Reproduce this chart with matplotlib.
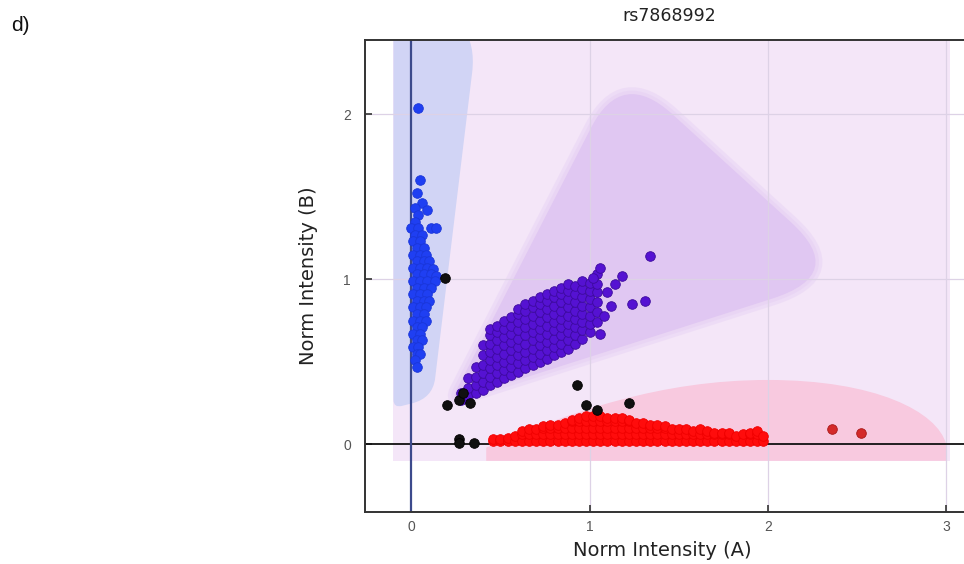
import numpy as np
import matplotlib.pyplot as plt
from matplotlib.path import Path
from matplotlib.patches import PathPatch, Rectangle

plt.rcParams['font.family'] = ['DejaVu Sans']

snp_name = 'rs7868992'
x_label = 'Norm Intensity (A)'
y_label = 'Norm Intensity (B)'
x_ticks = [0, 1, 2, 3]
y_ticks = [0, 1, 2]

# BB calls (blue)
blue_pts = [
    (0.035, 2.04), (0.05, 1.60), (0.03, 1.52), (0.06, 1.46), (0.02, 1.43),
    (0.09, 1.42), (0.04, 1.39), (0.11, 1.31), (0.14, 1.31), (0.02, 1.35),
    (0.00, 1.31), (0.04, 1.31), (0.02, 1.27), (0.06, 1.27), (0.01, 1.23),
    (0.05, 1.23), (0.03, 1.19), (0.07, 1.19), (0.01, 1.15), (0.05, 1.15),
    (0.08, 1.15), (0.03, 1.11), (0.07, 1.11), (0.10, 1.11), (0.01, 1.07),
    (0.05, 1.07), (0.09, 1.07), (0.12, 1.06), (0.03, 1.03), (0.07, 1.03),
    (0.11, 1.03), (0.14, 1.02), (0.01, 0.99), (0.05, 0.99), (0.09, 0.99),
    (0.13, 0.99), (0.03, 0.95), (0.07, 0.95), (0.11, 0.95), (0.01, 0.91),
    (0.05, 0.91), (0.09, 0.91), (0.03, 0.87), (0.07, 0.87), (0.10, 0.87),
    (0.01, 0.83), (0.05, 0.83), (0.08, 0.83), (0.03, 0.79), (0.07, 0.79),
    (0.01, 0.75), (0.05, 0.75), (0.08, 0.75), (0.03, 0.71), (0.06, 0.71),
    (0.01, 0.67), (0.05, 0.67), (0.03, 0.63), (0.06, 0.63), (0.01, 0.59),
    (0.04, 0.59), (0.03, 0.55), (0.05, 0.55), (0.02, 0.51), (0.03, 0.47),
]

# AB calls (purple)
purple_pts = [
    (0.28, 0.27), (0.28, 0.31),
    (0.32, 0.29), (0.32, 0.34), (0.32, 0.40),
    (0.36, 0.31), (0.36, 0.36), (0.36, 0.41), (0.36, 0.47),
    (0.40, 0.33), (0.40, 0.38), (0.40, 0.43), (0.40, 0.48), (0.40, 0.54), (0.40, 0.60),
    (0.44, 0.36), (0.44, 0.41), (0.44, 0.46), (0.44, 0.51), (0.44, 0.56), (0.44, 0.61),
    (0.44, 0.66), (0.44, 0.70),
    (0.48, 0.38), (0.48, 0.43), (0.48, 0.48), (0.48, 0.53), (0.48, 0.58), (0.48, 0.63),
    (0.48, 0.68), (0.48, 0.72),
    (0.52, 0.40), (0.52, 0.45), (0.52, 0.50), (0.52, 0.55), (0.52, 0.60), (0.52, 0.65),
    (0.52, 0.70), (0.52, 0.75),
    (0.56, 0.42), (0.56, 0.47), (0.56, 0.52), (0.56, 0.57), (0.56, 0.62), (0.56, 0.67),
    (0.56, 0.72), (0.56, 0.77),
    (0.60, 0.44), (0.60, 0.49), (0.60, 0.54), (0.60, 0.59), (0.60, 0.64), (0.60, 0.69),
    (0.60, 0.74), (0.60, 0.79), (0.60, 0.82),
    (0.64, 0.46), (0.64, 0.51), (0.64, 0.56), (0.64, 0.61), (0.64, 0.66), (0.64, 0.71),
    (0.64, 0.76), (0.64, 0.81), (0.64, 0.85),
    (0.68, 0.48), (0.68, 0.53), (0.68, 0.58), (0.68, 0.63), (0.68, 0.68), (0.68, 0.73),
    (0.68, 0.78), (0.68, 0.83), (0.68, 0.87),
    (0.72, 0.50), (0.72, 0.55), (0.72, 0.60), (0.72, 0.65), (0.72, 0.70), (0.72, 0.75),
    (0.72, 0.80), (0.72, 0.85), (0.72, 0.89),
    (0.76, 0.52), (0.76, 0.57), (0.76, 0.62), (0.76, 0.67), (0.76, 0.72), (0.76, 0.77),
    (0.76, 0.82), (0.76, 0.87), (0.76, 0.91),
    (0.80, 0.54), (0.80, 0.59), (0.80, 0.64), (0.80, 0.69), (0.80, 0.74), (0.80, 0.79),
    (0.80, 0.84), (0.80, 0.89), (0.80, 0.93),
    (0.84, 0.56), (0.84, 0.61), (0.84, 0.66), (0.84, 0.71), (0.84, 0.76), (0.84, 0.81),
    (0.84, 0.86), (0.84, 0.91), (0.84, 0.95),
    (0.88, 0.58), (0.88, 0.63), (0.88, 0.68), (0.88, 0.73), (0.88, 0.78), (0.88, 0.83),
    (0.88, 0.88), (0.88, 0.93), (0.88, 0.97),
    (0.92, 0.61), (0.92, 0.66), (0.92, 0.71), (0.92, 0.76), (0.92, 0.81), (0.92, 0.86),
    (0.92, 0.91), (0.92, 0.96),
    (0.96, 0.64), (0.96, 0.69), (0.96, 0.74), (0.96, 0.79), (0.96, 0.84), (0.96, 0.89),
    (0.96, 0.94), (0.96, 0.99),
    (1.00, 0.68), (1.00, 0.73), (1.00, 0.78), (1.00, 0.83), (1.00, 0.88), (1.00, 0.93),
    (1.00, 0.98),
    (1.04, 0.74), (1.04, 0.80), (1.04, 0.86), (1.04, 0.92), (1.04, 0.97), (1.04, 1.03),
    (1.06, 1.07), (1.34, 1.14), (1.18, 1.02), (1.24, 0.85), (1.31, 0.87), (1.06, 0.67),
    (1.10, 0.92), (1.12, 0.84), (1.08, 0.78), (1.14, 0.97), (1.02, 1.01),
]

# AA calls (red)
red_pts = [
    (0.46, 0.02), (0.46, 0.03), (0.50, 0.02), (0.50, 0.03), (0.54, 0.02), (0.54, 0.04),
    (0.58, 0.02), (0.58, 0.05), (0.62, 0.02), (0.62, 0.06), (0.62, 0.08),
    (0.66, 0.02), (0.66, 0.06), (0.66, 0.09), (0.70, 0.02), (0.70, 0.06), (0.70, 0.09),
    (0.74, 0.02), (0.74, 0.06), (0.74, 0.10), (0.74, 0.11),
    (0.78, 0.02), (0.78, 0.06), (0.78, 0.10), (0.78, 0.12),
    (0.82, 0.02), (0.82, 0.06), (0.82, 0.10), (0.82, 0.12),
    (0.86, 0.02), (0.86, 0.06), (0.86, 0.10), (0.86, 0.13),
    (0.90, 0.02), (0.90, 0.06), (0.90, 0.10), (0.90, 0.14), (0.90, 0.15),
    (0.94, 0.02), (0.94, 0.06), (0.94, 0.10), (0.94, 0.14), (0.94, 0.16),
    (0.98, 0.02), (0.98, 0.06), (0.98, 0.10), (0.98, 0.14), (0.98, 0.17),
    (1.02, 0.02), (1.02, 0.06), (1.02, 0.10), (1.02, 0.14), (1.02, 0.17),
    (1.06, 0.02), (1.06, 0.06), (1.06, 0.10), (1.06, 0.14), (1.06, 0.17),
    (1.10, 0.02), (1.10, 0.06), (1.10, 0.10), (1.10, 0.14), (1.10, 0.16),
    (1.14, 0.02), (1.14, 0.06), (1.14, 0.10), (1.14, 0.14), (1.14, 0.16),
    (1.18, 0.02), (1.18, 0.06), (1.18, 0.10), (1.18, 0.14), (1.18, 0.16),
    (1.22, 0.02), (1.22, 0.06), (1.22, 0.10), (1.22, 0.14), (1.22, 0.15),
    (1.26, 0.02), (1.26, 0.06), (1.26, 0.10), (1.26, 0.13),
    (1.30, 0.02), (1.30, 0.06), (1.30, 0.10), (1.30, 0.13),
    (1.34, 0.02), (1.34, 0.06), (1.34, 0.10), (1.34, 0.12),
    (1.38, 0.02), (1.38, 0.06), (1.38, 0.10), (1.38, 0.12),
    (1.42, 0.02), (1.42, 0.06), (1.42, 0.10), (1.42, 0.11),
    (1.46, 0.02), (1.46, 0.06), (1.46, 0.09), (1.50, 0.02), (1.50, 0.06), (1.50, 0.09),
    (1.54, 0.02), (1.54, 0.06), (1.54, 0.09), (1.58, 0.02), (1.58, 0.06), (1.58, 0.08),
    (1.62, 0.02), (1.62, 0.06), (1.62, 0.09), (1.66, 0.02), (1.66, 0.06), (1.66, 0.08),
    (1.70, 0.02), (1.70, 0.06), (1.70, 0.07), (1.74, 0.02), (1.74, 0.06), (1.74, 0.07),
    (1.78, 0.02), (1.78, 0.06), (1.78, 0.07), (1.82, 0.02), (1.82, 0.05),
    (1.86, 0.02), (1.86, 0.06), (1.90, 0.02), (1.90, 0.06), (1.90, 0.07),
    (1.94, 0.02), (1.94, 0.06), (1.94, 0.08), (1.97, 0.02), (1.97, 0.05),
]
red_far_pts = [(2.36, 0.09), (2.52, 0.07)]

# no calls (black)
black_pts = [
    (0.19, 1.01), (0.20, 0.24), (0.27, 0.27), (0.29, 0.31), (0.33, 0.25),
    (0.27, 0.03), (0.27, 0.01), (0.35, 0.01), (0.93, 0.36), (0.98, 0.24),
    (1.04, 0.21), (1.22, 0.25),
]


def rounded_path(verts, radii):
    # polygon whose corners are replaced by quadratic curves
    pts, codes = [], []
    n = len(verts)
    for i in range(n):
        p = np.array(verts[i - 1], float)
        v = np.array(verts[i], float)
        q = np.array(verts[(i + 1) % n], float)
        r = radii[i]
        a = v + r * (p - v) / np.linalg.norm(p - v)
        b = v + r * (q - v) / np.linalg.norm(q - v)
        pts.append(a)
        codes.append(Path.MOVETO if i == 0 else Path.LINETO)
        pts += [v, b]
        codes += [Path.CURVE3, Path.CURVE3]
    pts.append(pts[0])
    codes.append(Path.CLOSEPOLY)
    return Path(pts, codes)


def soft_region(ax, path, color):
    # faint rim first so the edge fades a little
    for lw in (10, 5):
        ax.add_patch(PathPatch(path, facecolor='none', edgecolor=color, lw=lw,
                               alpha=0.3, zorder=1))
    ax.add_patch(PathPatch(path, facecolor=color, edgecolor='none', zorder=1.1))


fig = plt.figure(figsize=(9.64, 5.64), dpi=100)
ax = fig.add_axes([0.3786, 0.0922, 0.6307, 0.8369])
ax.set_xlim(-0.26, 3.15)
ax.set_ylim(-0.41, 2.45)

# cluster regions
ax.add_patch(Rectangle((-0.1, -0.1), 3.12, 2.8, facecolor='#f4e6f8',
                       edgecolor='none', zorder=0.5))
blue_area = rounded_path([(-0.1, 2.7), (0.38, 2.6), (0.12, 0.28), (-0.1, 0.22)],
                         [0.0, 0.35, 0.12, 0.05])
ax.add_patch(PathPatch(blue_area, facecolor='#d1d4f5', edgecolor='none', zorder=1.1))
purple_area = rounded_path([(0.22, 0.26), (1.18, 2.28), (2.45, 1.03)],
                           [0.08, 0.4, 0.45])
soft_region(ax, purple_area, '#e0c7f2')
dome = Path([(0.42, -0.10), (0.42, -0.02), (0.9, 0.2), (1.4, 0.39), (2.0, 0.39),
             (2.6, 0.39), (2.95, 0.2), (3.0, 0.0), (3.0, -0.10), (0.42, -0.10)],
            [Path.MOVETO, Path.LINETO, Path.CURVE4, Path.CURVE4, Path.CURVE4,
             Path.CURVE4, Path.CURVE4, Path.CURVE4, Path.LINETO, Path.CLOSEPOLY])
ax.add_patch(PathPatch(dome, facecolor='#f8c9df', edgecolor='none', zorder=1.1))

for gx in x_ticks[1:]:
    ax.axvline(gx, color='#ddd2e6', lw=0.9, zorder=1.5)
for gy in y_ticks[1:]:
    ax.axhline(gy, color='#ddd2e6', lw=0.9, zorder=1.5)
ax.axhline(0, color='#111111', lw=1.3, zorder=2)
ax.axvline(0, color='#3c4a8c', lw=1.6, zorder=2)

dot = 48
for pts, face, edge in [(blue_pts, '#1f3ff2', '#1a36d8'),
                        (purple_pts, '#5512d2', '#3c0a9c'),
                        (red_pts, '#ff0c0c', '#f00000'),
                        (red_far_pts, '#d42a2a', '#a81818'),
                        (black_pts, '#101010', '#000000')]:
    arr = np.array(pts)
    ax.scatter(arr[:, 0], arr[:, 1], s=dot, c=face, edgecolors=edge,
               linewidths=0.6, zorder=3)

ax.set_xticks(x_ticks)
ax.set_yticks(y_ticks)
ax.tick_params(direction='in', length=5, width=1.2, color='#333333',
               labelsize=10, labelcolor='#555555')
ax.tick_params(axis='y', pad=10)
ax.tick_params(axis='x', pad=6)
for lbl in ax.get_xticklabels() + ax.get_yticklabels():
    lbl.set_family('Liberation Sans')
for side in ['left', 'bottom', 'top', 'right']:
    ax.spines[side].set_color('#333333')
    ax.spines[side].set_linewidth(1.4)

ax.set_title(snp_name, fontsize=12.5, color='#222222', pad=14)
ax.set_xlabel(x_label, fontsize=14, color='#222222')
ax.set_ylabel(y_label, fontsize=14, color='#222222')
ax.xaxis.set_label_coords(0.489, -0.061)
ax.yaxis.set_label_coords(-0.077, 0.5)

fig.text(0.012, 0.955, 'd)', family='Liberation Sans', fontsize=15,
         color='#111111', va='center')

fig.savefig('out.png', dpi=100)
